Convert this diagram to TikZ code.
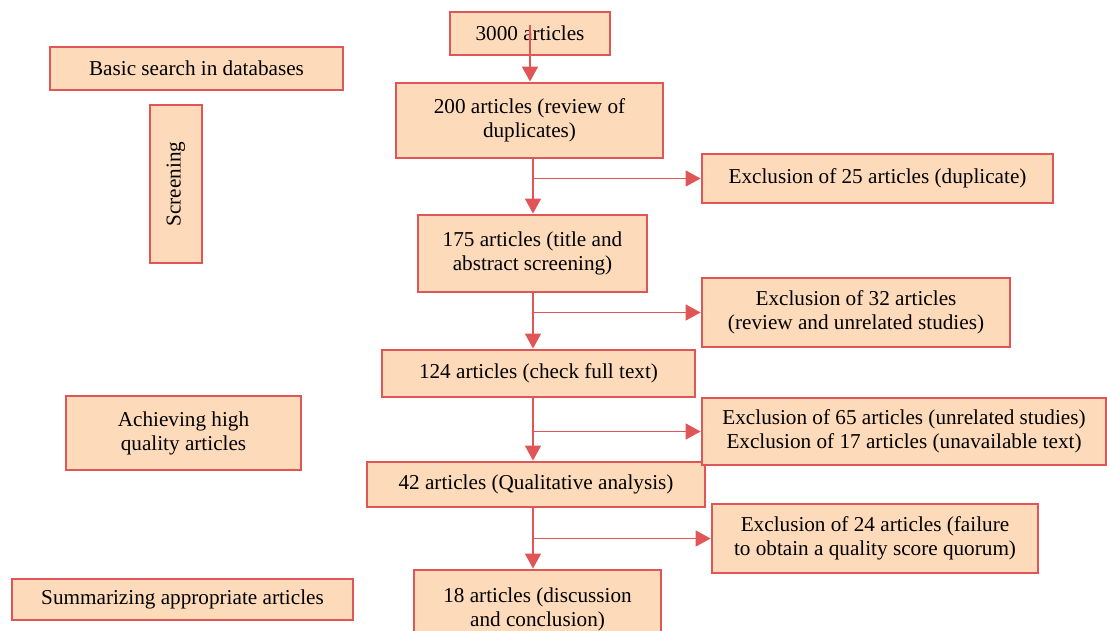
\documentclass[tikz,border=0pt]{standalone}
\usepackage{fontspec}
\setmainfont{Liberation Serif}
\usetikzlibrary{positioning,arrows.meta}
\definecolor{boxfill}{HTML}{FDDAB9}
\definecolor{boxline}{HTML}{E05656}

\begin{document}
\begin{tikzpicture}[
  x=0.5pt, y=-0.5pt,
  flowbox/.style={
    draw=boxline,
    fill=boxfill,
    line width=1.4pt,
    align=center,
    inner sep=0pt,
    font=\fontsize{10.6pt}{12pt}\selectfont
  },
  arrow/.style={-{Triangle[length=7.5pt,width=8pt]}, line width=0.75pt, draw=boxline}
]
\useasboundingbox (0,0) rectangle (1107,631);

% Colonne principale
\node[flowbox, minimum width=80pt, minimum height=21.5pt] (n3000) at (530,33.5) {3000 articles};
\node[flowbox, minimum width=133.5pt, minimum height=37.5pt] (n200) at (529.5,120.5) {200 articles (review of\\duplicates)};
\node[flowbox, minimum width=114.5pt, minimum height=38.5pt] (n175) at (532.5,253.5) {175 articles (title and\\abstract screening)};
\node[flowbox, minimum width=156.5pt, minimum height=23.5pt] (n124) at (538.5,373.5) {124 articles (check full text)};
\node[flowbox, minimum width=169pt, minimum height=22.5pt] (n42) at (536,484.5) {42 articles (Qualitative analysis)};
\node[flowbox, minimum width=123.5pt, minimum height=39pt] (n18) at (537.5,609) {18 articles (discussion\\and conclusion)};
\coordinate (spine) at (533,0);

% Exclusions
\node[flowbox, minimum width=175.5pt, minimum height=24.5pt] (ex25) at (877.5,178.5) {Exclusion of 25 articles (duplicate)};
\node[flowbox, minimum width=154pt, minimum height=34.5pt] (ex32) at (856,312.5) {Exclusion of 32 articles\\(review and unrelated studies)};
\node[flowbox, minimum width=202pt, minimum height=33.5pt] (ex65) at (904,431.5) {Exclusion of 65 articles (unrelated studies)\\Exclusion of 17 articles (unavailable text)};
\node[flowbox, minimum width=163pt, minimum height=34.5pt] (ex24) at (875,538.5) {Exclusion of 24 articles (failure\\to obtain a quality score quorum)};

% Étapes à gauche
\node[flowbox, minimum width=146.5pt, minimum height=21.5pt] (basic) at (196.5,68.5) {Basic search in databases};
\node[flowbox, rotate=90, minimum width=79pt, minimum height=26pt] (screen) at (176,184) {Screening};
\node[flowbox, minimum width=117.5pt, minimum height=37pt] (quality) at (183.5,433) {Achieving high\\quality articles};
\node[flowbox, minimum width=170.5pt, minimum height=20.5pt] (summ) at (182.5,599.5) {Summarizing appropriate articles};

% Flèches
\draw[arrow] ([yshift=4.25pt]n3000.center) -- (n3000.center |- n200.north);
\draw[arrow] (n200.south -| spine) -- (n175.north -| spine);
\draw[arrow] (n175.south -| spine) -- (n124.north -| spine);
\draw[arrow] (n124.south -| spine) -- (n42.north -| spine);
\draw[arrow] (n42.south -| spine) -- (n18.north -| spine);

\draw[arrow] (spine |- ex25.west) -- (ex25.west);
\draw[arrow] (spine |- ex32.west) -- (ex32.west);
\draw[arrow] (spine |- ex65.west) -- (ex65.west);
\draw[arrow] (spine |- ex24.west) -- (ex24.west);
\end{tikzpicture}
\end{document}
